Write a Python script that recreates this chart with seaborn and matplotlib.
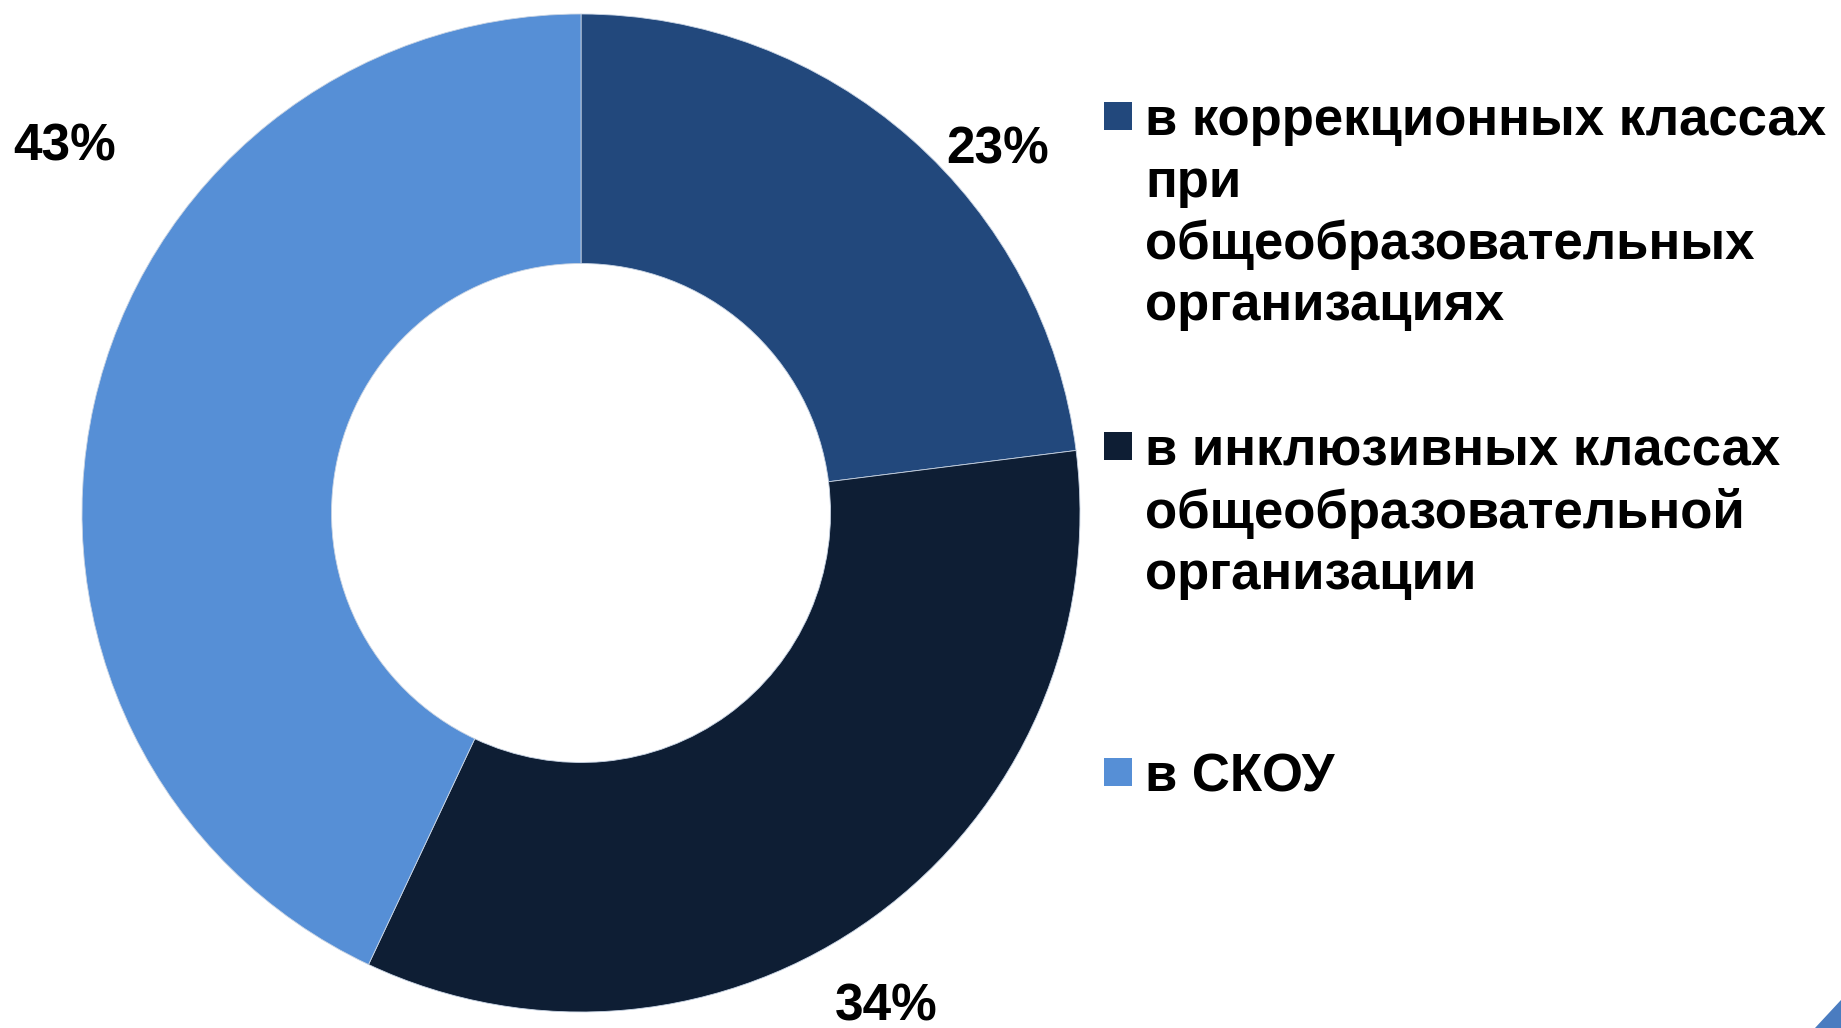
import matplotlib.pyplot as plt
import matplotlib.patches as mpatches
import seaborn as sns

# Data
categories = [
    "в коррекционных классах\nпри\nобщеобразовательных\nорганизациях",
    "в инклюзивных классах\nобщеобразовательной\nорганизации",
    "в СКОУ",
]
shares = [23, 34, 43]
pct_labels = ["23%", "34%", "43%"]

sns.set_theme(style="white")
plt.rcParams['font.family'] = ['Liberation Sans', 'DejaVu Sans']

colors = ["#22487c", "#0e1e34", "#568fd6"]

W, H = 1841, 1028
fig = plt.figure(figsize=(W / 100, H / 100), dpi=100)
fig.patch.set_facecolor("white")

# donut centre (581, 513) px, outer radius 499 px
cx, cy, r = 581, 513, 499
ax = fig.add_axes([(cx - r) / W, (H - cy - r) / H, 2 * r / W, 2 * r / H])
ax.pie(
    shares,
    colors=colors,
    startangle=90,
    counterclock=False,
    radius=1.0,
    wedgeprops=dict(width=0.5, edgecolor="#c8d4e4", linewidth=0.6),
)
ax.set_xlim(-1, 1)
ax.set_ylim(-1, 1)
ax.set_aspect("equal")
ax.axis("off")

# percentage labels (pixel positions of the label centres)
label_px = [(998, 150), (886, 1007), (65, 147)]
for txt, (px, py) in zip(pct_labels, label_px):
    fig.text(px / W, 1 - py / H, txt, ha="center", va="center",
             fontsize=37, fontweight="bold", color="black")

# legend, drawn by hand so the marker sits on the first line
entry_y = [116, 446, 772]
line_h = 61.6
for label, col, ey in zip(categories, colors, entry_y):
    fig.patches.append(mpatches.Rectangle(
        (1104 / W, 1 - (ey + 14) / H), 28 / W, 28 / H,
        transform=fig.transFigure, facecolor=col, edgecolor="none"))
    for k, line in enumerate(label.split("\n")):
        fig.text(1145 / W, 1 - (ey + k * line_h) / H, line,
                 ha="left", va="center_baseline", fontsize=38,
                 fontweight="bold", color="black")

# corner decoration of the slide
fig.patches.append(mpatches.Polygon(
    [(1841 / W, 1 - 1000 / H), (1841 / W, 0), (1815 / W, 0)],
    closed=True, transform=fig.transFigure, facecolor="#4a7cc0",
    edgecolor="none"))

fig.savefig("out.png", dpi=100, facecolor="white")
